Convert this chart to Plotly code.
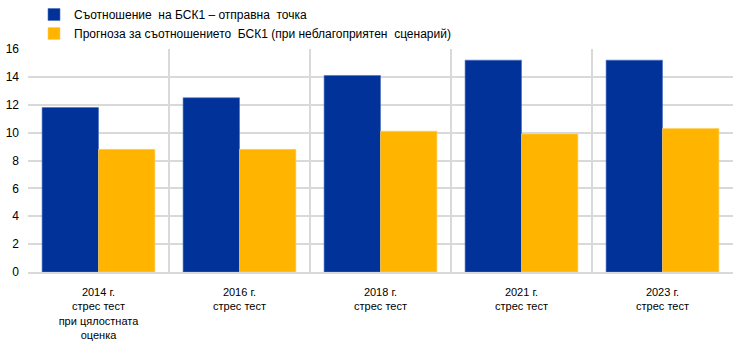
import plotly.graph_objects as go

categories = [
    "2014 г.<br>стрес тест<br>при цялостната<br>оценка",
    "2016 г.<br>стрес тест",
    "2018 г.<br>стрес тест",
    "2021 г.<br>стрес тест",
    "2023 г.<br>стрес тест",
]
series_names = [
    "Съотношение  на БСК1 – отправна  точка",
    "Прогноза за съотношението  БСК1 (при неблагоприятен  сценарий)",
]
start_values = [11.8, 12.5, 14.1, 15.2, 15.2]
adverse_values = [8.8, 8.8, 10.1, 9.9, 10.3]
y_ticks = [0, 2, 4, 6, 8, 10, 12, 14, 16]

fig = go.Figure()
fig.add_trace(go.Bar(x=categories, y=start_values, name=series_names[0],
                     marker=dict(color="#003299", line=dict(color="#4a6cc0", width=0.6))))
fig.add_trace(go.Bar(x=categories, y=adverse_values, name=series_names[1],
                     marker=dict(color="#FFB400", line=dict(color="#ffd060", width=0.6))))

fig.update_layout(
    width=744, height=345,
    margin=dict(l=28, r=11, t=49, b=73, autoexpand=False),
    paper_bgcolor="white", plot_bgcolor="white",
    font=dict(family="Liberation Sans, Arial, sans-serif", size=12, color="#000000"),
    barmode="group", bargap=0.2, bargroupgap=0,
    showlegend=True,
    legend=dict(x=0.0457, xref="container", xanchor="left", y=1.025, yanchor="top",
                yref="container", orientation="v",
                font=dict(size=12), tracegroupgap=0, itemwidth=30,
                bgcolor="rgba(0,0,0,0)"),
    xaxis=dict(type="category", tickson="boundaries", showgrid=True,
               gridcolor="#d9d9d9", gridwidth=1.5, ticks="", showline=True,
               linecolor="#d9d9d9", linewidth=1.5, mirror=False,
               tickfont=dict(size=11), ticklabelstandoff=9),
    yaxis=dict(range=[0, 16], tickvals=y_ticks, showgrid=True,
               gridcolor="#d9d9d9", gridwidth=1.5, zeroline=False,
               ticks="", showline=False, tickfont=dict(size=12),
               ticklabelstandoff=8),
)
fig.write_html("out.html")
